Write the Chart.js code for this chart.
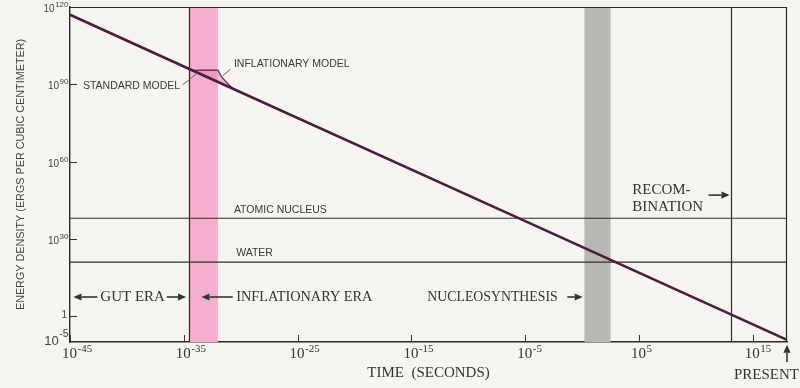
<!DOCTYPE html>
<html><head><meta charset="utf-8">
<script src="https://cdn.jsdelivr.net/npm/chart.js@4.4.0/dist/chart.umd.min.js"></script>
<style>html,body{margin:0;padding:0;background:#f6f4ee;}#wrap{width:800px;height:388px;}</style>
</head><body><div id="wrap"><canvas id="c" width="800" height="388"></canvas></div>
<script>
// ---- data (exponents: time = 10^x seconds, energy density = 10^y ergs/cm^3) ----
const xTickValues = [-45, -35, -25, -15, -5, 5, 15];
const xTickLabels = [['10', '-45'], ['10', '-35'], ['10', '-25'], ['10', '-15'], ['10', '-5'], ['10', '5'], ['10', '15']];
const yTickValues = [120, 90, 60, 30, 0, -10];
const yTickLabels = [['10', '120'], ['10', '90'], ['10', '60'], ['10', '30'], ['1', ''], ['10', '-5']];
const standardLogT = [-45, -35, -5, 18];
const standardLogE = [117, 96.9, 36.9, -9.2];
const inflLogT = [-34.4, -32.0, -31.9, -31.7, -31.4, -31.0, -30.6];
const inflLogE = [95.4, 95.5, 94.6, 93.0, 91.5, 89.6, 88.1];
const nucleusLogE = 38;
const waterLogE = 21;
const inflationBand = [-34.56, -32.0];
const nucleosynthesisBand = [0.2, 2.5];
const recombinationLogT = 13.1;
const presentLogT = 18;

const zip = (xs, ys) => xs.map((v, i) => ({x: v, y: ys[i]}));
const hline = v => [{x: -45, y: v}, {x: presentLogT, y: v}];

const SERIF = '"Liberation Serif", "DejaVu Serif", serif';
const SANS = '"Liberation Sans", Arial, sans-serif';

function arrow(ctx, x1, y1, x2, y2) {
  const ang = Math.atan2(y2 - y1, x2 - x1), h = 8, w = 3.6;
  const bx = x2 - h * Math.cos(ang), by = y2 - h * Math.sin(ang);
  ctx.beginPath(); ctx.moveTo(x1, y1); ctx.lineTo(bx, by); ctx.stroke();
  ctx.beginPath(); ctx.moveTo(x2, y2);
  ctx.lineTo(bx + w * Math.sin(ang), by - w * Math.cos(ang));
  ctx.lineTo(bx - w * Math.sin(ang), by + w * Math.cos(ang));
  ctx.closePath(); ctx.fill();
}

// draws base + raised exponent; x is the left edge (align 'left') or right edge (align 'right')
function powLabel(ctx, base, exp, x, y, align, bf, ef, rise) {
  ctx.textAlign = 'left'; ctx.textBaseline = 'alphabetic';
  ctx.font = bf; const bw = ctx.measureText(base).width;
  ctx.font = ef; const ew = exp ? ctx.measureText(exp).width : 0;
  const left = align === 'right' ? x - bw - ew : x;
  ctx.font = bf; ctx.fillText(base, left, y);
  if (exp) { ctx.font = ef; ctx.fillText(exp, left + bw + 0.5, y - rise); }
  return bw;
}

const decor = {
  id: 'decor',
  beforeDraw(chart) {
    const c = chart.ctx; c.save(); c.fillStyle = '#f6f4ee'; c.fillRect(0, 0, chart.width, chart.height); c.restore();
  },
  beforeDatasetsDraw(chart) {
    const {ctx, chartArea: a, scales: {x}} = chart;
    ctx.save();
    ctx.fillStyle = '#f3afcd';
    let x1 = x.getPixelForValue(inflationBand[0]), x2 = x.getPixelForValue(inflationBand[1]);
    ctx.fillRect(x1, a.top, x2 - x1, a.bottom - a.top);
    ctx.fillStyle = '#b9b8b3';
    x1 = x.getPixelForValue(nucleosynthesisBand[0]); x2 = x.getPixelForValue(nucleosynthesisBand[1]);
    ctx.fillRect(x1, a.top, x2 - x1, a.bottom - a.top);
    ctx.strokeStyle = '#2a2a2a'; ctx.lineWidth = 1.2;
    [inflationBand[0], recombinationLogT].forEach(v => {
      const px = Math.round(x.getPixelForValue(v)) + 0.5;
      ctx.beginPath(); ctx.moveTo(px, a.top); ctx.lineTo(px, a.bottom); ctx.stroke();
    });
    ctx.beginPath(); ctx.moveTo(a.left, a.top + 0.5); ctx.lineTo(a.right - 0.5, a.top + 0.5); ctx.lineTo(a.right - 0.5, a.bottom); ctx.stroke();
    ctx.restore();
  },
  afterDatasetsDraw(chart) {
    const {ctx, chartArea: a, scales: {x, y}} = chart;
    const X = v => x.getPixelForValue(v), Y = v => y.getPixelForValue(v);
    ctx.save();
    // inside tick marks
    ctx.strokeStyle = '#333'; ctx.lineWidth = 1;
    x.ticks.forEach(t => { const px = Math.round(X(t.value)) + 0.5; ctx.beginPath(); ctx.moveTo(px, a.bottom); ctx.lineTo(px, a.bottom - 7); ctx.stroke(); });
    y.ticks.forEach(t => { if (t.value === -10 || t.value === 120) return; const py = Math.round(Y(t.value)) + 0.5; ctx.beginPath(); ctx.moveTo(a.left, py); ctx.lineTo(a.left + 7, py); ctx.stroke(); });
    // tick labels with real superscripts
    ctx.fillStyle = '#333';
    x.ticks.forEach(t => {
      const l = xTickLabels[xTickValues.indexOf(t.value)];
      powLabel(ctx, l[0], l[1], X(t.value) - 8, a.bottom + 16, 'left', '15px ' + SERIF, '11px ' + SERIF, 6);
    });
    ctx.fillStyle = '#444';
    y.ticks.forEach(t => {
      const l = yTickLabels[yTickValues.indexOf(t.value)];
      const py = Y(t.value);
      if (t.value === -10) powLabel(ctx, l[0], l[1], a.left - 2, py + 3, 'right', '13px ' + SANS, '10.5px ' + SANS, 8);
      else if (!l[1]) powLabel(ctx, l[0], '', a.left - 3, py + 2, 'right', '10px ' + SANS, '', 0);
      else powLabel(ctx, l[0], l[1], a.left - 2, py + 5, 'right', '10px ' + SANS, '8px ' + SANS, 5);
    });
    // small sans labels
    ctx.fillStyle = '#3a3a3a'; ctx.textBaseline = 'middle'; ctx.textAlign = 'left';
    ctx.font = '10.5px ' + SANS;
    ctx.fillText('STANDARD MODEL', X(-43.86), Y(89.4));
    ctx.fillText('INFLATIONARY MODEL', X(-30.6), Y(97.9));
    ctx.fillText('ATOMIC NUCLEUS', X(-30.6), Y(41.2));
    ctx.fillText('WATER', X(-30.4), Y(24.5));
    ctx.lineWidth = 0.9; ctx.strokeStyle = '#555';
    ctx.beginPath(); ctx.moveTo(X(-35.1), Y(89.8)); ctx.lineTo(X(-33.8), Y(94.4)); ctx.stroke();
    ctx.beginPath(); ctx.moveTo(X(-30.9), Y(95.9)); ctx.lineTo(X(-31.6), Y(93.2)); ctx.stroke();
    // era labels
    ctx.fillStyle = '#333'; ctx.strokeStyle = '#333'; ctx.lineWidth = 1.6;
    const ey = Y(7.46);
    ctx.font = '15px ' + SERIF;
    ctx.textAlign = 'center'; ctx.fillText('GUT ERA', X(-39.5), ey);
    arrow(ctx, X(-42.6), ey, X(-44.7), ey);
    arrow(ctx, X(-36.5), ey, X(-34.8), ey);
    ctx.textAlign = 'left';
    ctx.font = '14.3px ' + SERIF;
    ctx.fillText('INFLATIONARY ERA', X(-30.4), ey);
    arrow(ctx, X(-30.7), ey, X(-33.45), ey);
    ctx.font = '13.8px ' + SERIF;
    ctx.fillText('NUCLEOSYNTHESIS', X(-13.6), ey);
    arrow(ctx, X(-1.3), ey, X(0.05), ey);
    ctx.font = '15px ' + SERIF;
    ctx.fillText('RECOM-', X(4.4), Y(49.0));
    ctx.fillText('BINATION', X(4.4), Y(42.4));
    arrow(ctx, X(11.1), Y(47.0), X(12.95), Y(47.0));
    ctx.textAlign = 'center';
    ctx.fillText('PRESENT', X(16.2), Y(-22.9));
    arrow(ctx, X(presentLogT), Y(-17.8), X(presentLogT), Y(-11.1));
    ctx.restore();
  }
};

new Chart(document.getElementById('c'), {
  type: 'line',
  data: {
    datasets: [
      {data: zip(standardLogT, standardLogE), borderColor: '#4b1c3d', borderWidth: 2.6, pointRadius: 0, order: 0},
      {data: zip(inflLogT, inflLogE), borderColor: '#7e2c68', borderWidth: 1.4, pointRadius: 0, order: 1,
       cubicInterpolationMode: 'monotone', fill: {target: 0}, backgroundColor: 'rgba(225,130,180,0.45)'},
      {data: hline(nucleusLogE), borderColor: '#2e2e2e', borderWidth: 1.1, pointRadius: 0, order: 2},
      {data: hline(waterLogE), borderColor: '#2e2e2e', borderWidth: 1.1, pointRadius: 0, order: 3}
    ]
  },
  options: {
    responsive: false, animation: false, devicePixelRatio: 1,
    layout: {padding: {top: 7, right: 13, left: 0, bottom: 0}},
    plugins: {legend: {display: false}, tooltip: {enabled: false}},
    scales: {
      x: {
        type: 'linear', min: -45, max: presentLogT,
        afterBuildTicks: s => { s.ticks = xTickValues.map(v => ({value: v})); },
        afterFit: s => { s.height = 46; },
        grid: {display: false, drawTicks: false},
        border: {display: true, color: '#2a2a2a', width: 1.4},
        ticks: {display: false},
        title: {display: true, text: 'TIME  (SECONDS)', color: '#333', font: {family: SERIF, size: 15}, padding: {bottom: 6, top: 0}}
      },
      y: {
        type: 'linear', min: -10, max: 120,
        afterBuildTicks: s => { s.ticks = yTickValues.map(v => ({value: v})); },
        afterFit: s => { s.width = 70; },
        grid: {display: false, drawTicks: false},
        border: {display: true, color: '#2a2a2a', width: 1.4},
        ticks: {display: false},
        title: {display: true, text: 'ENERGY DENSITY (ERGS PER CUBIC CENTIMETER)', color: '#444',
          font: {family: SANS, size: 10.8}, padding: {top: 15, bottom: 0}}
      }
    }
  },
  plugins: [decor]
});
</script></body></html>
